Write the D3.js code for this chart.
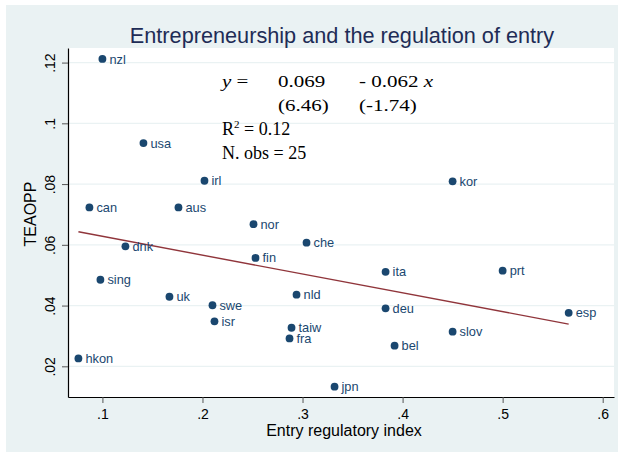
<!DOCTYPE html>
<html>
<head>
<meta charset="utf-8">
<script src="https://cdn.jsdelivr.net/npm/d3@7"></script>
<style>
  body { margin: 0; background: #fff; }
  svg { display: block; font-family: "Liberation Sans", Arial, sans-serif; }
</style>
</head>
<body>
<div id="chart"></div>
<script>
// Country codes, entry regulatory index (x) and TEAOPP (y)
const countries = ["nzl", "usa", "irl", "can", "aus", "nor", "dnk", "sing", "uk", "swe", "isr",
  "fin", "che", "nld", "taiw", "fra", "hkon", "jpn", "kor", "ita", "prt", "deu", "esp", "slov", "bel"];
const entryIndex = [0.100, 0.141, 0.202, 0.087, 0.176, 0.251, 0.123, 0.098, 0.167, 0.210, 0.212,
  0.253, 0.304, 0.294, 0.289, 0.287, 0.076, 0.332, 0.450, 0.383, 0.500, 0.383, 0.566, 0.450, 0.392];
const teaopp = [0.1212, 0.0935, 0.0811, 0.0723, 0.0723, 0.0668, 0.0595, 0.0485, 0.0429, 0.0401, 0.0348,
  0.0557, 0.0607, 0.0436, 0.0327, 0.0292, 0.0226, 0.0133, 0.0809, 0.0511, 0.0515, 0.0391, 0.0376, 0.0314, 0.0268];

const xTicks = [0.1, 0.2, 0.3, 0.4, 0.5, 0.6];
const yTicks = [0.02, 0.04, 0.06, 0.08, 0.10, 0.12];

// Fitted line: y = 0.069 - 0.062 x
const intercept = 0.069, slope = -0.062;

const W = 623, H = 457;
const plot = { left: 68, right: 614, top: 48, bottom: 397 };

const data = countries.map((c, i) => ({ name: c, x: entryIndex[i], y: teaopp[i] }));

const x = d3.scaleLinear().domain([0.0656, 0.6113]).range([plot.left, plot.right]);
const y = d3.scaleLinear().domain([0.0099, 0.1248]).range([plot.bottom, plot.top]);

const tickFmt = v => d3.format(".2~f")(v).replace(/^0/, "");

const svg = d3.select("#chart").append("svg")
    .attr("width", W)
    .attr("height", H);

// Graph background
svg.append("rect")
    .attr("x", 6).attr("y", 5)
    .attr("width", 612).attr("height", 447)
    .attr("fill", "#eaf2f3");

// Plot region
svg.append("rect")
    .attr("x", plot.left).attr("y", plot.top)
    .attr("width", plot.right - plot.left)
    .attr("height", plot.bottom - plot.top)
    .attr("fill", "#fff");

// Gridlines
svg.append("g")
    .selectAll("line")
    .data(yTicks)
    .join("line")
    .attr("x1", plot.left).attr("x2", plot.right)
    .attr("y1", d => y(d)).attr("y2", d => y(d))
    .attr("stroke", "#eaf2f3")
    .attr("stroke-width", 1.3);

// Title
svg.append("text")
    .attr("x", 342).attr("y", 43)
    .attr("text-anchor", "middle")
    .attr("font-size", 21.7)
    .attr("fill", "#1e2c56")
    .text("Entrepreneurship and the regulation of entry");

// X axis
const xAxis = svg.append("g")
    .attr("transform", `translate(0,${plot.bottom})`)
    .call(d3.axisBottom(x).tickValues(xTicks).tickFormat(tickFmt).tickSize(6).tickSizeOuter(0));
xAxis.select(".domain").attr("stroke", "#000").attr("stroke-width", 1.2);
xAxis.selectAll(".tick line").attr("stroke", "#555");
xAxis.selectAll(".tick text")
    .attr("font-size", 14)
    .attr("font-family", "Liberation Sans, Arial, sans-serif")
    .attr("fill", "#000")
    .attr("y", 22).attr("dy", 0);

// Y axis
const yAxis = svg.append("g")
    .attr("transform", `translate(${plot.left},0)`)
    .call(d3.axisLeft(y).tickValues(yTicks).tickFormat(tickFmt).tickSize(6).tickSizeOuter(0));
yAxis.select(".domain").attr("stroke", "#000").attr("stroke-width", 1.2);
yAxis.selectAll(".tick line").attr("stroke", "#555");
yAxis.selectAll(".tick text")
    .attr("font-size", 14)
    .attr("font-family", "Liberation Sans, Arial, sans-serif")
    .attr("fill", "#000")
    .attr("x", 0).attr("dy", 0)
    .attr("text-anchor", "middle")
    .attr("transform", "translate(-13,0) rotate(-90)");

// Axis titles
svg.append("text")
    .attr("x", 344).attr("y", 436)
    .attr("text-anchor", "middle")
    .attr("font-size", 16)
    .attr("fill", "#000")
    .text("Entry regulatory index");

svg.append("text")
    .attr("transform", "translate(36,214) rotate(-90)")
    .attr("text-anchor", "middle")
    .attr("font-size", 16)
    .attr("fill", "#000")
    .text("TEAOPP");

// Fitted line across the range of the data
const xr = d3.extent(entryIndex);
svg.append("line")
    .attr("x1", x(xr[0])).attr("y1", y(intercept + slope * xr[0]))
    .attr("x2", x(xr[1])).attr("y2", y(intercept + slope * xr[1]))
    .attr("stroke", "#90353b")
    .attr("stroke-width", 1.4);

// Points and labels
const pts = svg.append("g");
pts.selectAll("circle")
    .data(data)
    .join("circle")
    .attr("cx", d => x(d.x))
    .attr("cy", d => y(d.y))
    .attr("r", 3.9)
    .attr("fill", "#1a476f");

pts.selectAll("text")
    .data(data)
    .join("text")
    .attr("x", d => x(d.x) + 7)
    .attr("y", d => y(d.y) + 4.6)
    .attr("font-size", 12.8)
    .attr("fill", "#1a476f")
    .text(d => d.name);

// Regression note
const note = svg.append("g")
    .attr("font-family", "Liberation Serif, Times New Roman, serif")
    .attr("fill", "#000");

const eqText = (px, py) => note.append("text")
    .attr("transform", `translate(${px},${py}) scale(1.2,1)`)
    .attr("font-size", 17.5);

eqText(222, 87).html('<tspan font-style="italic">y</tspan> =');
eqText(278, 87).text(intercept.toFixed(3));
eqText(359, 87).html(`- ${Math.abs(slope).toFixed(3)} <tspan font-style="italic">x</tspan>`);
eqText(278, 111).text("(6.46)");
eqText(359, 111).text("(-1.74)");

note.append("text").attr("x", 222).attr("y", 135)
    .attr("font-size", 18)
    .html('R<tspan font-size="11" dy="-7">2</tspan><tspan dy="7"> = 0.12</tspan>');
note.append("text").attr("x", 222).attr("y", 159)
    .attr("font-size", 18)
    .text("N. obs = 25");
</script>
</body>
</html>
